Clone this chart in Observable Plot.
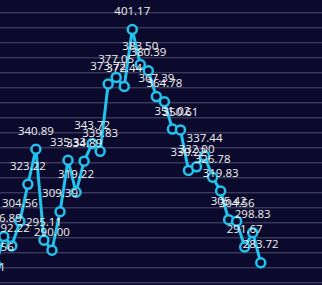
<!DOCTYPE html>
<html>
<head>
<meta charset="utf-8">
<script src="https://cdn.jsdelivr.net/npm/d3@7"></script>
<script src="https://cdn.jsdelivr.net/npm/@observablehq/plot@0.6"></script>
<style>
  html, body { margin: 0; padding: 0; background: #0b0a2c; overflow: hidden; }
  svg { display: block; }
</style>
</head>
<body>
<div id="chart"></div>
<script>
const values = [272.51, 282.56, 296.89, 292.22, 304.56, 323.22, 340.89, 295.11, 290.00, 309.39,
  335.33, 319.22, 334.89, 343.72, 339.83, 373.72, 377.05, 372.44, 401.17, 383.50,
  380.39, 367.39, 364.78, 351.02, 350.61, 330.22, 332.00, 337.44, 326.78, 319.83,
  305.42, 304.56, 291.67, 298.83, 283.72];
const labels = values.map(v => v.toFixed(2));
const gridTicks = d3.range(409.58, 270, -7.553);

const data = values.map((v, i) => ({i, v, label: labels[i]}));

const bg = "#0b0a2c";
const cyan = "#22c2ee";

const chart = Plot.plot({
  width: 322,
  height: 285,
  margin: 0,
  style: {background: bg},
  x: {domain: [1.589, 41.69], axis: null},
  y: {domain: [272.27, 415.77], axis: null},
  marks: [
    Plot.ruleY(gridTicks, {stroke: "#4e4d72", strokeWidth: 1}),
    Plot.line(data, {x: "i", y: "v", stroke: cyan, strokeWidth: 3}),
    Plot.dot(data, {x: "i", y: "v", r: 4.5, fill: bg, stroke: cyan, strokeWidth: 2.5}),
    Plot.text(data, {x: "i", y: "v", text: "label", dy: -18, fill: "#f2f2f2", fontSize: 11.5, fontFamily: "Open Sans"})
  ]
});
document.getElementById("chart").appendChild(chart);
</script>
</body>
</html>
